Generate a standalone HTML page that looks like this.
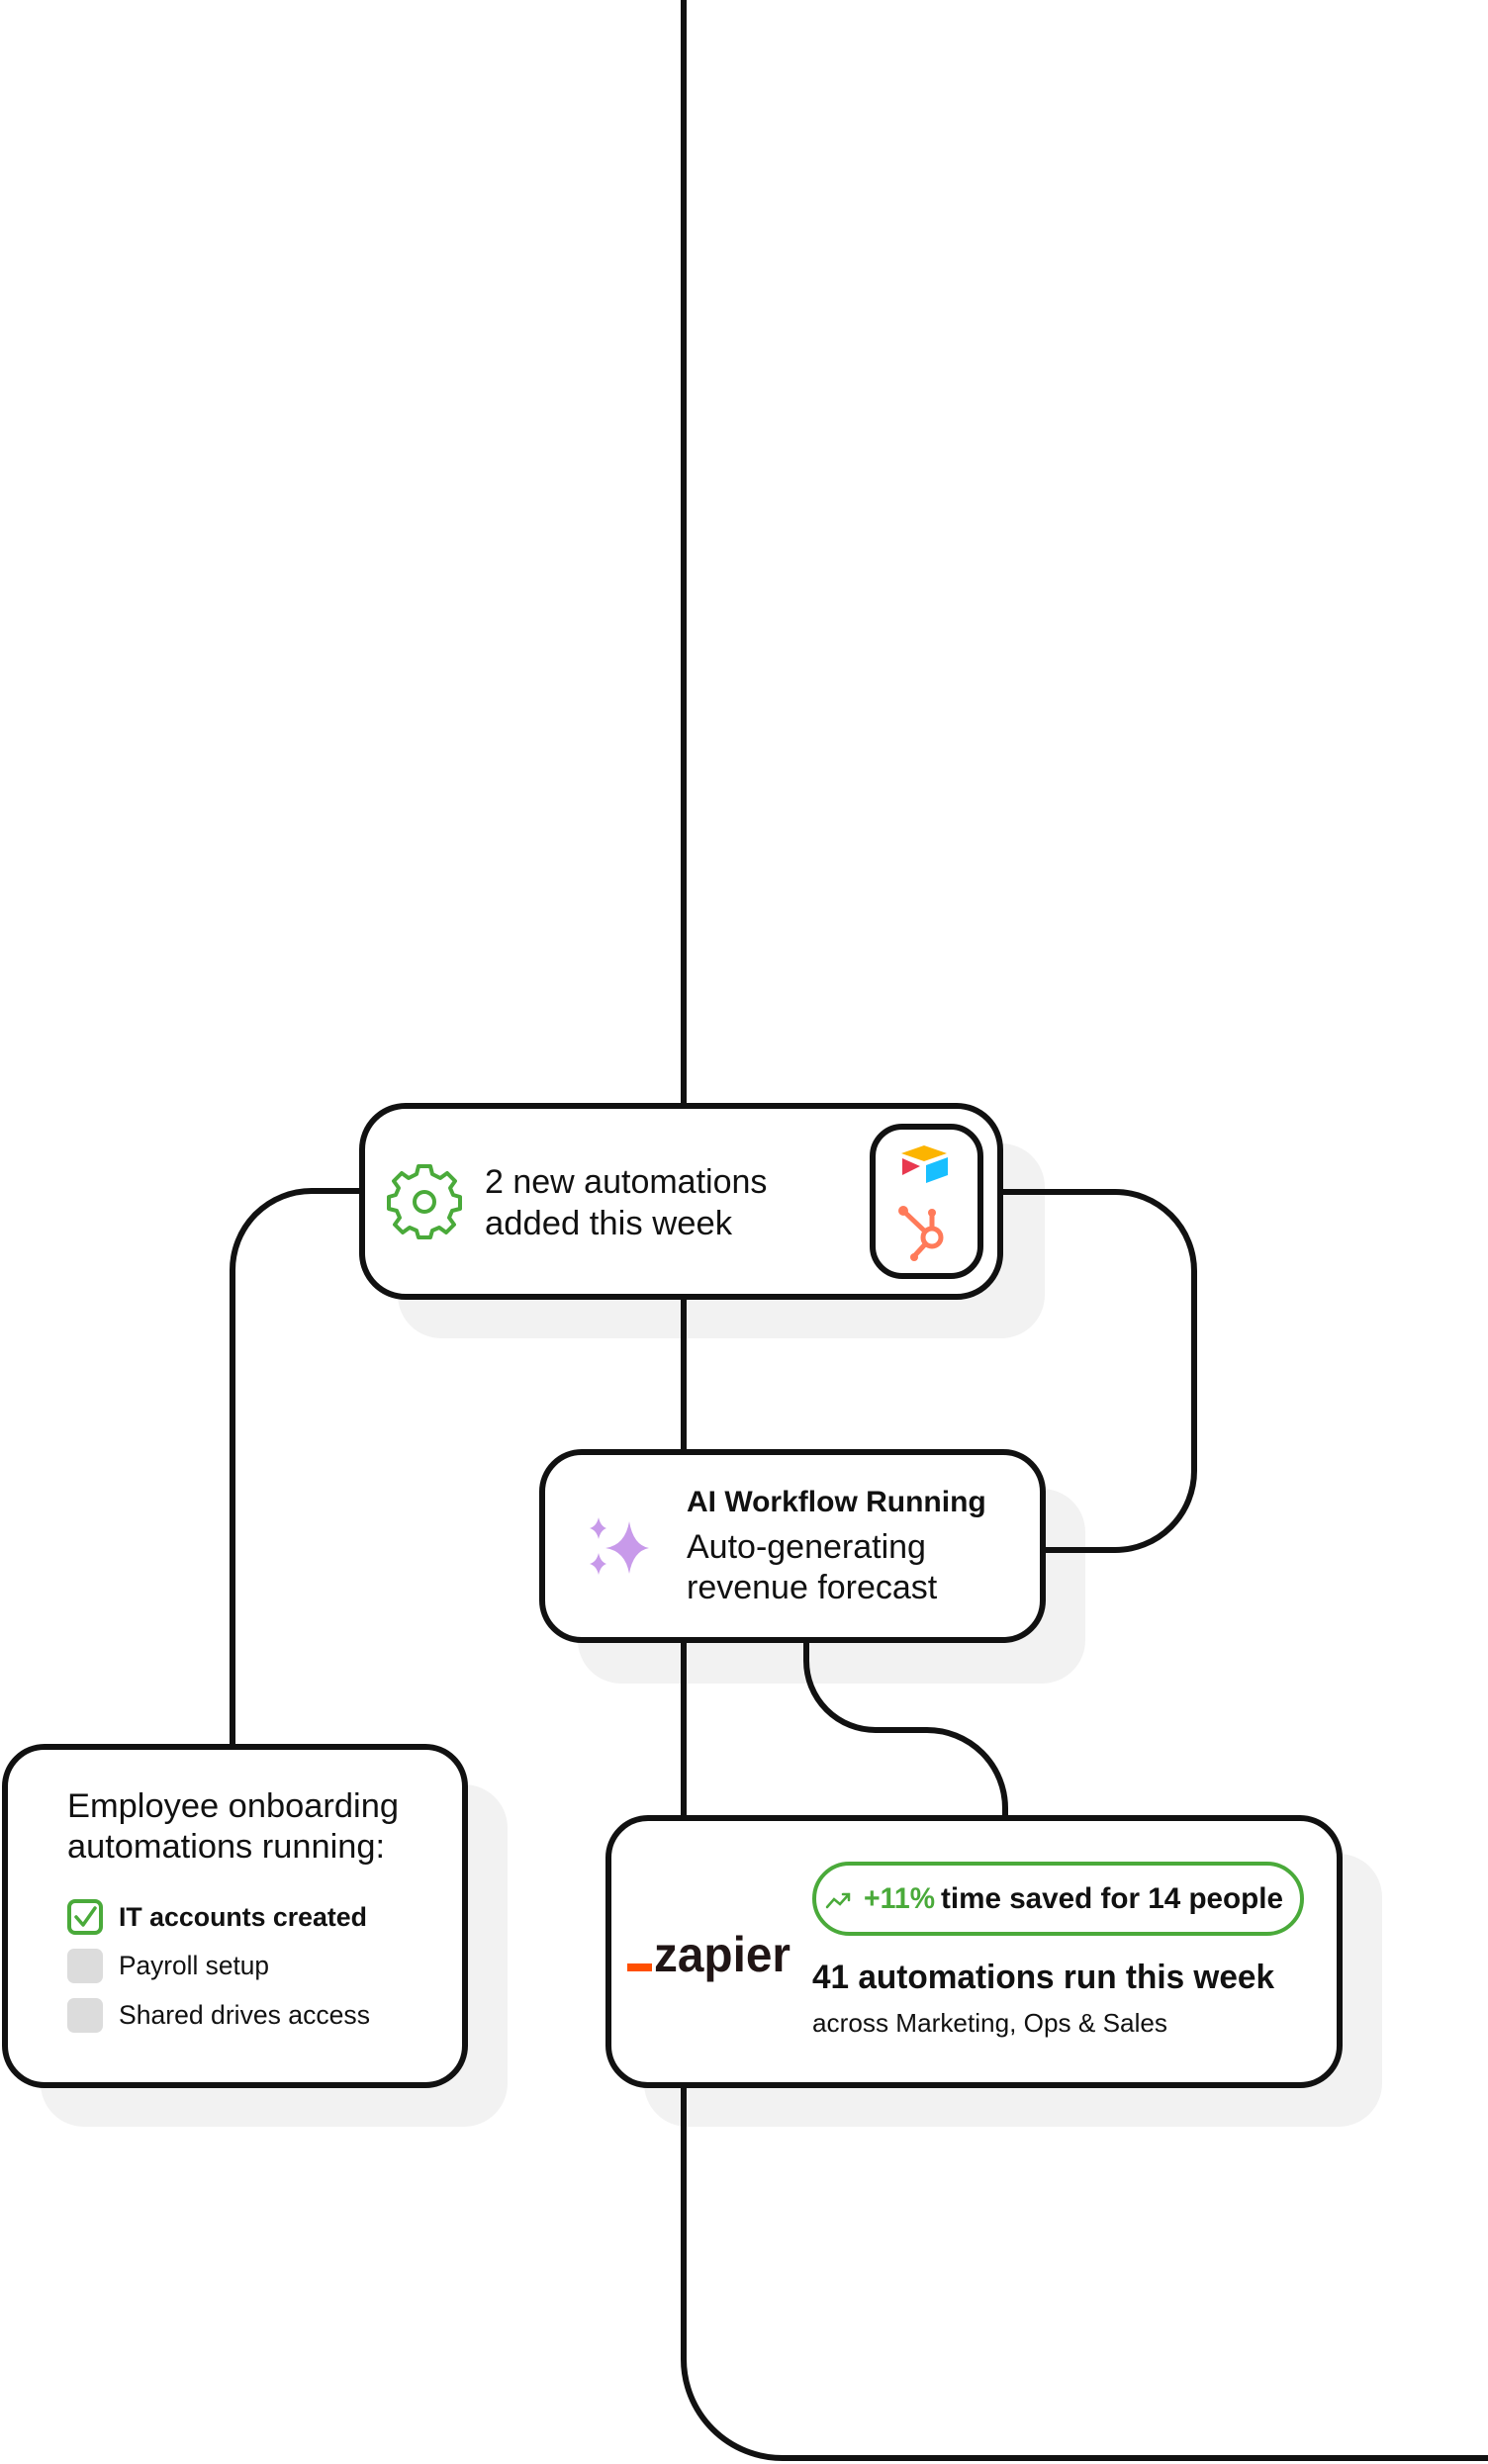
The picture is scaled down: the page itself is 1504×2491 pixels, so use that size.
<!DOCTYPE html>
<html><head><meta charset="utf-8"><style>
html,body{margin:0;padding:0;background:#fff;}
svg{display:block;}
text{font-family:"Liberation Sans",sans-serif;fill:#111;}
</style></head><body>
<svg width="1504" height="2491" viewBox="0 0 1504 2491" xmlns="http://www.w3.org/2000/svg">
<g fill="#f2f2f2">
<rect x="402" y="1156" width="654" height="197" rx="44"/>
<rect x="584" y="1505" width="513" height="197" rx="44"/>
<rect x="41" y="1804" width="472" height="346" rx="44"/>
<rect x="651" y="1874" width="746" height="276" rx="44"/>
</g>
<g fill="none" stroke="#111" stroke-width="6">
<path d="M691 0 V1118"/>
<path d="M691 1312 V1468"/>
<path d="M691 1660 V1838"/>
<path d="M691 2110 V2385 A100 100 0 0 0 791 2485 H1504"/>
<path d="M366 1204 H315 A80 80 0 0 0 235 1284 V1766"/>
<path d="M1011 1205 H1127 A80 80 0 0 1 1207 1285 V1487 A80 80 0 0 1 1127 1567 H1054"/>
<path d="M815 1660 V1679 A70 70 0 0 0 885 1749 H937 A79 79 0 0 1 1016 1828 V1838"/>
<path d="M797 1193 H882 M797 1237 H882"/>
</g>
<g fill="#fff" stroke="#111" stroke-width="6">
<rect x="366" y="1118" width="645" height="193" rx="44"/>
<rect x="548" y="1468" width="506" height="190" rx="40"/>
<rect x="5" y="1766" width="465" height="342" rx="40"/>
<rect x="615" y="1838" width="739" height="270" rx="40"/>
<rect x="882" y="1139" width="109" height="151" rx="30"/>
</g>
<g fill="none" stroke="#4aaa3a" stroke-width="4" transform="translate(429 1215)">
<circle r="10"/>
<path d="M-6 -34 L6 -34 L8 -26 L16 -22 L23 -27 L31 -19 L26 -12 L29 -5 L36 -3 L36 9 L28 11 L25 18 L30 25 L22 33 L15 28 L8 31 L6 38 L-6 38 L-8 31 L-15 28 L-22 33 L-30 25 L-25 18 L-28 11 L-36 9 L-36 -3 L-29 -5 L-26 -12 L-31 -19 L-23 -27 L-16 -22 L-8 -26 Z" stroke-linejoin="round" transform="translate(0 -2)"/>
</g>
<text x="490" y="1206" font-size="34">2 new automations</text>
<text x="490" y="1248" font-size="34" textLength="250" lengthAdjust="spacingAndGlyphs">added this week</text>
<path d="M934 1158 L957 1166 L934 1174 L911 1166 Z" fill="#fcb400"/>
<path d="M936 1178 L958 1170 L958 1188 L936 1196 Z" fill="#18bfff"/>
<path d="M912 1171 L930 1179 L912 1188 Z" fill="#e8384f"/>
<g stroke="#ff7a59" stroke-width="5" fill="none" stroke-linecap="round">
<circle cx="942" cy="1251" r="9"/>
<path d="M942 1242 V1228 M913 1224 L934 1244 M935 1258 L924 1270"/>
</g>
<circle cx="913" cy="1224" r="5" fill="#ff7a59"/><circle cx="942" cy="1226" r="4" fill="#ff7a59"/><circle cx="924" cy="1271" r="4" fill="#ff7a59"/>
<g fill="#c89aea">
<path d="M636 1538 Q640 1562 656 1565 Q640 1568 636 1591 Q632 1568 612 1565 Q632 1562 636 1538 Z"/>
<path d="M605 1534 Q607 1543 613 1545 Q607 1547 605 1556 Q603 1547 596 1545 Q603 1543 605 1534 Z"/>
<path d="M605 1570 Q607 1579 613 1581 Q607 1583 605 1592 Q603 1583 596 1581 Q603 1579 605 1570 Z"/>
</g>
<text x="694" y="1528" font-size="30" font-weight="bold">AI Workflow Running</text>
<text x="694" y="1575" font-size="34">Auto-generating</text>
<text x="694" y="1616" font-size="34">revenue forecast</text>
<text x="68" y="1837" font-size="34" textLength="335" lengthAdjust="spacingAndGlyphs">Employee onboarding</text>
<text x="68" y="1878" font-size="34" textLength="321" lengthAdjust="spacingAndGlyphs">automations running:</text>
<rect x="70" y="1922" width="32" height="32" rx="6" fill="#fff" stroke="#4aaa3a" stroke-width="4"/>
<path d="M77 1938 L84 1946 L96 1929" fill="none" stroke="#4aaa3a" stroke-width="3.5" stroke-linecap="round" stroke-linejoin="round"/>
<rect x="68" y="1970" width="36" height="35" rx="7" fill="#dcdcdc"/>
<rect x="68" y="2020" width="36" height="35" rx="7" fill="#dcdcdc"/>
<text x="120" y="1947" font-size="27" font-weight="bold" textLength="251" lengthAdjust="spacingAndGlyphs">IT accounts created</text>
<text x="120" y="1996" font-size="27" textLength="152" lengthAdjust="spacingAndGlyphs">Payroll setup</text>
<text x="120" y="2046" font-size="27" textLength="254" lengthAdjust="spacingAndGlyphs">Shared drives access</text>
<rect x="634" y="1985" width="25" height="8" fill="#ff4f00"/>
<text x="661" y="1993" font-size="50" font-weight="bold" style="fill:#201515" textLength="138" lengthAdjust="spacingAndGlyphs">zapier</text>
<rect x="823" y="1884" width="493" height="71" rx="35.5" fill="#fff" stroke="#4aaa3a" stroke-width="4"/>
<path d="M836 1928 L843 1920 L849 1925 L858 1915 M852 1915 H858 V1921" fill="none" stroke="#4aaa3a" stroke-width="2.5" stroke-linecap="round"/>
<text x="873" y="1929" font-size="30" font-weight="bold" style="fill:#4aaa3a" textLength="72" lengthAdjust="spacingAndGlyphs">+11%</text>
<text x="951" y="1929" font-size="30" font-weight="bold" textLength="346" lengthAdjust="spacingAndGlyphs">time saved for 14 people</text>
<text x="821" y="2010" font-size="34" font-weight="bold" textLength="467" lengthAdjust="spacingAndGlyphs">41 automations run this week</text>
<text x="821" y="2054" font-size="26" textLength="359" lengthAdjust="spacingAndGlyphs">across Marketing, Ops &amp; Sales</text>
</svg>
</body></html>
